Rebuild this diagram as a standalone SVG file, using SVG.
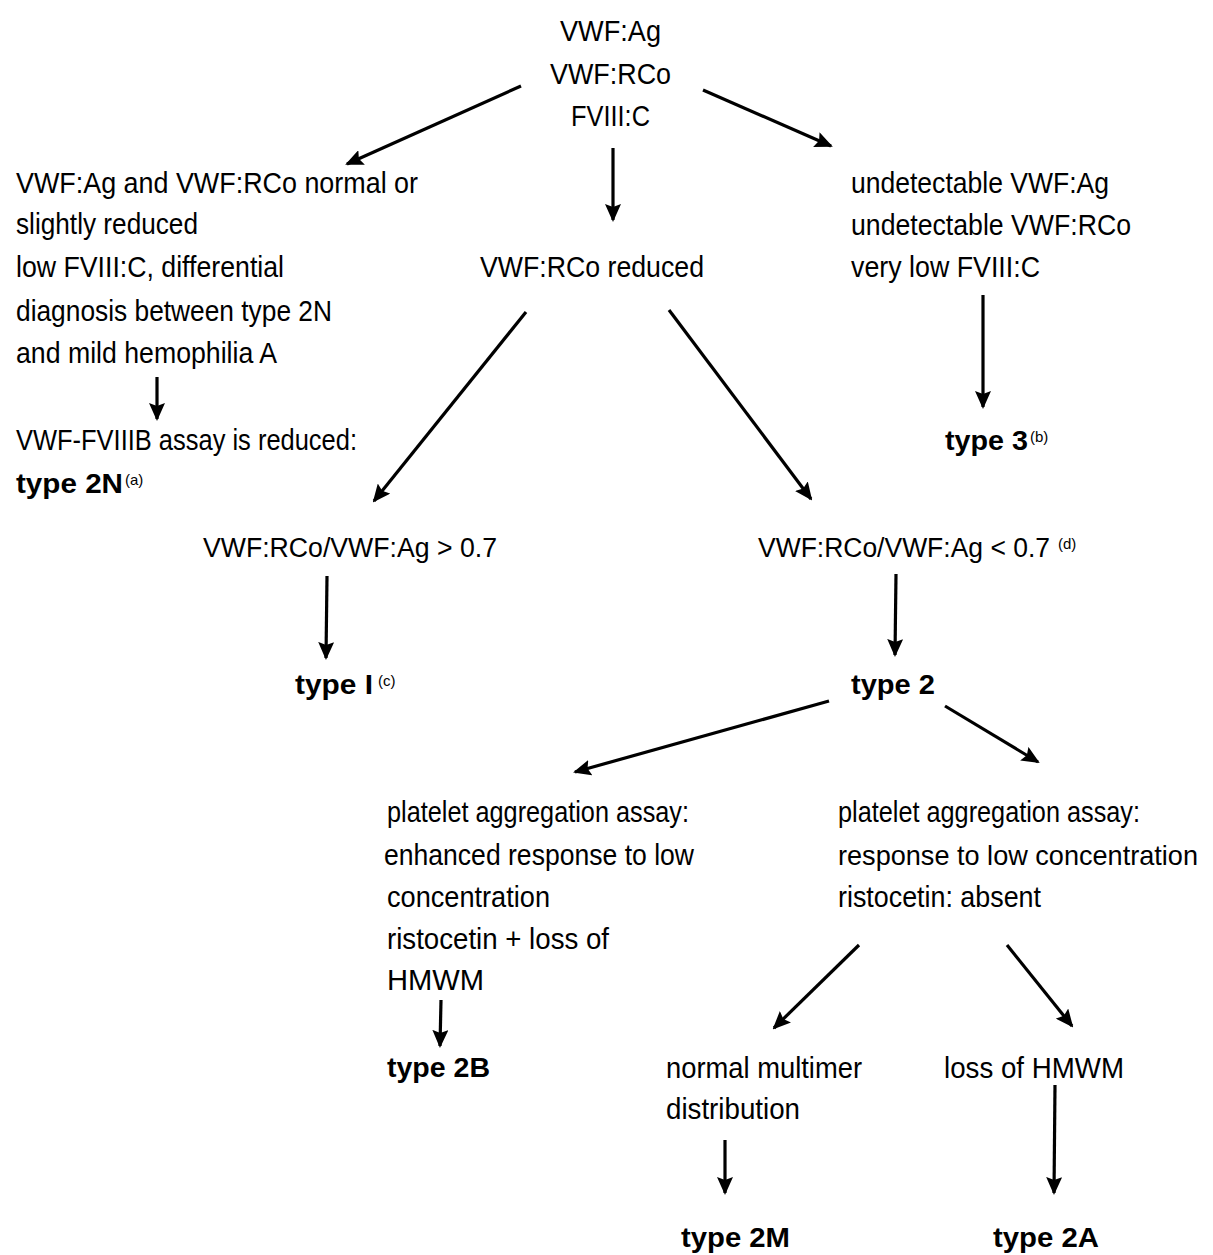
<svg xmlns="http://www.w3.org/2000/svg" width="1213" height="1255" viewBox="0 0 1213 1255">
<defs>
<style>
.t{font-family:"Liberation Sans Narrow","Liberation Sans",Arial,sans-serif;font-size:30px;fill:#000}
.r{font-size:27px}
.b{font-family:"Liberation Sans","Arial",sans-serif;font-size:28px;font-weight:bold;fill:#000}
.s{font-family:"Liberation Sans",Arial,sans-serif;font-size:15px;font-weight:normal;fill:#000}
.c{stroke:#000;stroke-width:3.2;fill:none}
</style>
<marker id="ah" viewBox="0 0 18 16" refX="16" refY="8" markerWidth="18" markerHeight="16" markerUnits="userSpaceOnUse" orient="auto">
<path d="M0,0 L18,8 L0,16 L3,8 z" fill="#000"/>
</marker>
</defs>
<rect width="1213" height="1255" fill="#fff"/>

<g id="connectors">
<line class="c" marker-end="url(#ah)" x1="521" y1="86" x2="347" y2="164"/>
<line class="c" marker-end="url(#ah)" x1="703" y1="90" x2="831" y2="146"/>
<line class="c" marker-end="url(#ah)" x1="613" y1="148" x2="613" y2="220"/>
<line class="c" marker-end="url(#ah)" x1="157" y1="377" x2="157" y2="419"/>
<line class="c" marker-end="url(#ah)" x1="983" y1="295" x2="983" y2="407"/>
<line class="c" marker-end="url(#ah)" x1="526" y1="312" x2="374" y2="501"/>
<line class="c" marker-end="url(#ah)" x1="669" y1="310" x2="811" y2="499"/>
<line class="c" marker-end="url(#ah)" x1="327" y1="576" x2="326" y2="658"/>
<line class="c" marker-end="url(#ah)" x1="896" y1="574" x2="895" y2="655"/>
<line class="c" marker-end="url(#ah)" x1="829" y1="701" x2="575" y2="772"/>
<line class="c" marker-end="url(#ah)" x1="945" y1="706" x2="1038" y2="762"/>
<line class="c" marker-end="url(#ah)" x1="441" y1="1000" x2="440" y2="1046"/>
<line class="c" marker-end="url(#ah)" x1="859" y1="945" x2="774" y2="1028"/>
<line class="c" marker-end="url(#ah)" x1="1007" y1="945" x2="1072" y2="1026"/>
<line class="c" marker-end="url(#ah)" x1="725" y1="1140" x2="725" y2="1193"/>
<line class="c" marker-end="url(#ah)" x1="1055" y1="1085" x2="1054" y2="1193"/>
</g>

<g id="n-start">
<text class="t" x="560" y="41" textLength="101" lengthAdjust="spacingAndGlyphs">VWF:Ag</text>
<text class="t" x="550" y="84" textLength="121" lengthAdjust="spacingAndGlyphs">VWF:RCo</text>
<text class="t" x="571" y="126" textLength="79" lengthAdjust="spacingAndGlyphs">FVIII:C</text>
</g>

<g id="n-left">
<text class="t" x="16" y="193" textLength="402" lengthAdjust="spacingAndGlyphs">VWF:Ag and VWF:RCo normal or</text>
<text class="t" x="16" y="234" textLength="182" lengthAdjust="spacingAndGlyphs">slightly reduced</text>
<text class="t" x="16" y="277" textLength="268" lengthAdjust="spacingAndGlyphs">low FVIII:C, differential</text>
<text class="t" x="16" y="321" textLength="316" lengthAdjust="spacingAndGlyphs">diagnosis between type 2N</text>
<text class="t" x="16" y="363" textLength="261" lengthAdjust="spacingAndGlyphs">and mild hemophilia A</text>
</g>

<g id="n-2n">
<text class="t" x="16" y="450" textLength="341" lengthAdjust="spacingAndGlyphs">VWF-FVIIIB assay is reduced:</text>
<text class="b" x="16" y="493"><tspan textLength="107" lengthAdjust="spacingAndGlyphs">type 2N</tspan><tspan class="s" x="125" y="485">(a)</tspan></text>
</g>

<g id="n-rco">
<text class="t" x="480" y="277" textLength="224" lengthAdjust="spacingAndGlyphs">VWF:RCo reduced</text>
</g>

<g id="n-right">
<text class="t" x="851" y="193" textLength="258" lengthAdjust="spacingAndGlyphs">undetectable VWF:Ag</text>
<text class="t" x="851" y="235" textLength="280" lengthAdjust="spacingAndGlyphs">undetectable VWF:RCo</text>
<text class="t" x="851" y="277" textLength="189" lengthAdjust="spacingAndGlyphs">very low FVIII:C</text>
</g>

<g id="n-type3">
<text class="b" x="945" y="450"><tspan textLength="83" lengthAdjust="spacingAndGlyphs">type 3</tspan><tspan class="s" x="1030" y="442">(b)</tspan></text>
</g>

<g id="n-gt">
<text class="t r" x="203" y="557" textLength="294" lengthAdjust="spacingAndGlyphs">VWF:RCo/VWF:Ag &gt; 0.7</text>
</g>

<g id="n-lt">
<text class="t r" x="758" y="557"><tspan textLength="292" lengthAdjust="spacingAndGlyphs">VWF:RCo/VWF:Ag &lt; 0.7</tspan><tspan class="s" x="1058" y="549">(d)</tspan></text>
</g>

<g id="n-type1">
<text class="b" x="295" y="694"><tspan textLength="78" lengthAdjust="spacingAndGlyphs">type I</tspan><tspan class="s" x="378" y="686">(c)</tspan></text>
</g>

<g id="n-type2">
<text class="b" x="851" y="694" textLength="84" lengthAdjust="spacingAndGlyphs">type 2</text>
</g>

<g id="n-pa-left">
<text class="t" x="387" y="822" textLength="302" lengthAdjust="spacingAndGlyphs">platelet aggregation assay:</text>
<text class="t" x="384" y="865" textLength="310" lengthAdjust="spacingAndGlyphs">enhanced response to low</text>
<text class="t" x="387" y="907" textLength="163" lengthAdjust="spacingAndGlyphs">concentration</text>
<text class="t" x="387" y="949" textLength="222" lengthAdjust="spacingAndGlyphs">ristocetin + loss of</text>
<text class="t" x="387" y="990" textLength="97" lengthAdjust="spacingAndGlyphs">HMWM</text>
</g>

<g id="n-type2b">
<text class="b" x="387" y="1077" textLength="103" lengthAdjust="spacingAndGlyphs">type 2B</text>
</g>

<g id="n-pa-right">
<text class="t" x="838" y="822" textLength="302" lengthAdjust="spacingAndGlyphs">platelet aggregation assay:</text>
<text class="t" x="838" y="865" style="font-size:28px" textLength="360" lengthAdjust="spacingAndGlyphs">response to low concentration</text>
<text class="t" x="838" y="907" textLength="203" lengthAdjust="spacingAndGlyphs">ristocetin: absent</text>
</g>

<g id="n-normal">
<text class="t" x="666" y="1078" textLength="196" lengthAdjust="spacingAndGlyphs">normal multimer</text>
<text class="t" x="666" y="1119" textLength="134" lengthAdjust="spacingAndGlyphs">distribution</text>
</g>

<g id="n-loss">
<text class="t" x="944" y="1078" textLength="180" lengthAdjust="spacingAndGlyphs">loss of HMWM</text>
</g>

<g id="n-type2m">
<text class="b" x="681" y="1247" textLength="109" lengthAdjust="spacingAndGlyphs">type 2M</text>
</g>

<g id="n-type2a">
<text class="b" x="993" y="1247" textLength="106" lengthAdjust="spacingAndGlyphs">type 2A</text>
</g>
</svg>
